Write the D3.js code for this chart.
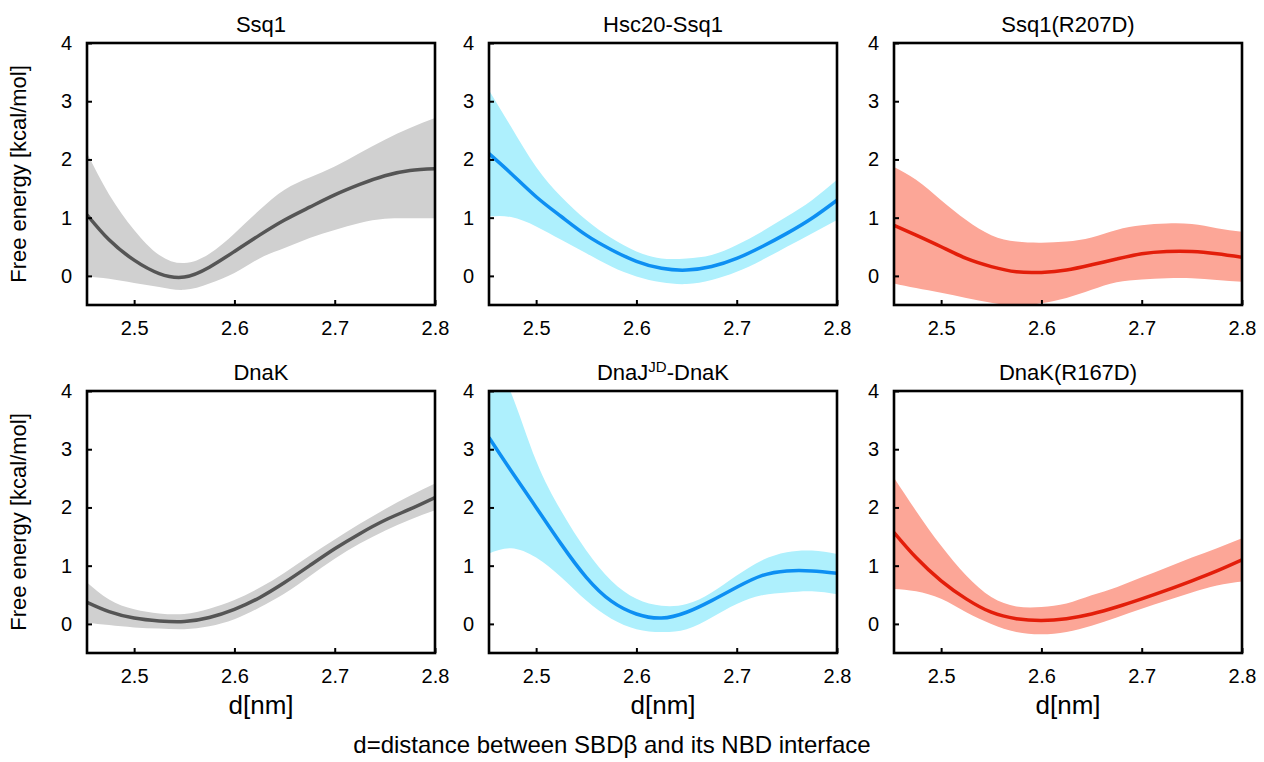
<!DOCTYPE html>
<html>
<head>
<meta charset="utf-8">
<script src="https://cdn.jsdelivr.net/npm/d3@7"></script>
<style>
  body { margin: 0; background: #fff; }
  text { font-family: "Liberation Sans", Arial, sans-serif; fill: #000; }
</style>
</head>
<body>
<svg class="chart" width="1264" height="762"></svg>
<script>
// distance grid (nm)
const xs = [2.453, 2.475, 2.5, 2.525, 2.55, 2.575, 2.6, 2.625, 2.65, 2.675, 2.7, 2.725, 2.75, 2.775, 2.8]

// free energy, kcal/mol: mean, upper and lower edge of the band
const ssq1Mean  = [1.05, 0.62, 0.27, 0.04, -0.02, 0.15, 0.42, 0.70, 0.96, 1.18, 1.39, 1.57, 1.72, 1.81, 1.84]
const ssq1Upper = [2.11, 1.40, 0.79, 0.36, 0.22, 0.38, 0.73, 1.13, 1.48, 1.69, 1.88, 2.11, 2.34, 2.54, 2.71]
const ssq1Lower = [-0.01, -0.05, -0.12, -0.19, -0.24, -0.13, 0.05, 0.30, 0.48, 0.65, 0.79, 0.91, 0.98, 0.99, 0.99]

const hscMean  = [2.10, 1.76, 1.36, 1.02, 0.70, 0.45, 0.25, 0.13, 0.10, 0.16, 0.30, 0.50, 0.73, 0.99, 1.30]
const hscUpper = [3.19, 2.56, 1.87, 1.36, 0.96, 0.65, 0.42, 0.30, 0.30, 0.36, 0.53, 0.76, 1.02, 1.30, 1.65]
const hscLower = [1.02, 1.01, 0.85, 0.62, 0.39, 0.16, -0.01, -0.11, -0.14, -0.07, 0.07, 0.27, 0.50, 0.73, 0.96]

const ssqMutMean  = [0.87, 0.70, 0.50, 0.30, 0.16, 0.07, 0.06, 0.10, 0.19, 0.29, 0.38, 0.42, 0.42, 0.38, 0.32]
const ssqMutUpper = [1.87, 1.65, 1.30, 0.96, 0.70, 0.59, 0.57, 0.59, 0.66, 0.79, 0.87, 0.90, 0.89, 0.82, 0.76]
const ssqMutLower = [-0.13, -0.21, -0.29, -0.38, -0.46, -0.51, -0.47, -0.38, -0.24, -0.11, -0.06, -0.04, -0.04, -0.07, -0.10]

const dnakMean  = [0.37, 0.21, 0.10, 0.05, 0.04, 0.11, 0.25, 0.45, 0.71, 1.00, 1.29, 1.55, 1.78, 1.97, 2.17]
const dnakUpper = [0.71, 0.42, 0.25, 0.18, 0.17, 0.26, 0.41, 0.62, 0.88, 1.17, 1.45, 1.72, 1.97, 2.20, 2.41]
const dnakLower = [0.02, -0.02, -0.06, -0.08, -0.09, -0.04, 0.08, 0.28, 0.52, 0.82, 1.12, 1.38, 1.60, 1.79, 1.95]

const dnajMean  = [3.20, 2.63, 2.00, 1.37, 0.80, 0.39, 0.17, 0.10, 0.20, 0.40, 0.63, 0.83, 0.91, 0.91, 0.87]
const dnajUpper = [4.70, 3.97, 2.80, 1.94, 1.26, 0.74, 0.43, 0.31, 0.34, 0.54, 0.83, 1.09, 1.23, 1.26, 1.20]
const dnajLower = [1.21, 1.30, 1.14, 0.80, 0.40, 0.09, -0.09, -0.14, -0.09, 0.11, 0.34, 0.49, 0.54, 0.56, 0.51]

const dnakMutMean  = [1.57, 1.14, 0.74, 0.43, 0.20, 0.09, 0.06, 0.09, 0.17, 0.29, 0.43, 0.58, 0.74, 0.91, 1.10]
const dnakMutUpper = [2.51, 1.94, 1.34, 0.83, 0.46, 0.30, 0.29, 0.35, 0.49, 0.63, 0.80, 0.97, 1.14, 1.30, 1.47]
const dnakMutLower = [0.60, 0.56, 0.43, 0.20, 0.00, -0.14, -0.18, -0.14, -0.03, 0.11, 0.26, 0.40, 0.54, 0.66, 0.73]

const xTicks = [2.5, 2.6, 2.7, 2.8]
const yTicks = [0, 1, 2, 3, 4]

const panels = [
  { title: "Ssq1", mean: ssq1Mean, upper: ssq1Upper, lower: ssq1Lower, band: "#d0d0d0", line: "#555555" },
  { title: "Hsc20-Ssq1", mean: hscMean, upper: hscUpper, lower: hscLower, band: "#aef0fd", line: "#0d8ff2" },
  { title: "Ssq1(R207D)", mean: ssqMutMean, upper: ssqMutUpper, lower: ssqMutLower, band: "#fca697", line: "#e31e0a" },
  { title: "DnaK", mean: dnakMean, upper: dnakUpper, lower: dnakLower, band: "#d0d0d0", line: "#555555" },
  { title: "DnaJ", sup: "JD", after: "-DnaK", mean: dnajMean, upper: dnajUpper, lower: dnajLower, band: "#aef0fd", line: "#0d8ff2" },
  { title: "DnaK(R167D)", mean: dnakMutMean, upper: dnakMutUpper, lower: dnakMutLower, band: "#fca697", line: "#e31e0a" }
]

const svg = d3.select("svg.chart")
const lefts = [87, 489, 894]
const tops = [43, 391]
const w = 348, h = 262

panels.forEach((p, i) => {
  const col = i % 3, row = Math.floor(i / 3)
  const left = lefts[col], top = tops[row]

  const x = d3.scaleLinear().domain([2.453, 2.8]).range([left, left + w])
  const y = d3.scaleLinear().domain([-0.5, 4]).range([top + h, top])

  const g = svg.append("g")

  g.append("clipPath").attr("id", "clip" + i)
    .append("rect").attr("x", left).attr("y", top).attr("width", w).attr("height", h)

  const plot = g.append("g").attr("clip-path", `url(#clip${i})`)

  // band
  const area = d3.area()
    .x((d, j) => x(xs[j]))
    .y0((d, j) => y(p.lower[j]))
    .y1((d, j) => y(p.upper[j]))
    .curve(d3.curveNatural)
  plot.append("path").datum(p.mean).attr("d", area).attr("fill", p.band)

  // mean
  const line = d3.line()
    .x((d, j) => x(xs[j]))
    .y(d => y(d))
    .curve(d3.curveNatural)
  plot.append("path").datum(p.mean).attr("d", line)
    .attr("fill", "none").attr("stroke", p.line).attr("stroke-width", 3.5)

  // axes: ticks point inward
  g.append("g").attr("transform", `translate(0,${top + h})`)
    .call(d3.axisBottom(x).tickValues(xTicks).tickSizeInner(-5).tickSizeOuter(0).tickPadding(16).tickFormat(d3.format(".1f")))
    .call(a => a.select(".domain").remove())
    .call(a => a.selectAll("line").attr("stroke", "#000").attr("stroke-width", 2))
    .call(a => a.selectAll("text").attr("font-size", 20).attr("font-family", "Liberation Sans, Arial, sans-serif"))

  g.append("g").attr("transform", `translate(${left},0)`)
    .call(d3.axisLeft(y).tickValues(yTicks).tickSizeInner(-5).tickSizeOuter(0).tickPadding(15).tickFormat(d3.format("d")))
    .call(a => a.select(".domain").remove())
    .call(a => a.selectAll("line").attr("stroke", "#000").attr("stroke-width", 2))
    .call(a => a.selectAll("text").attr("font-size", 20).attr("font-family", "Liberation Sans, Arial, sans-serif"))

  // frame
  g.append("rect").attr("x", left).attr("y", top).attr("width", w).attr("height", h)
    .attr("fill", "none").attr("stroke", "#000").attr("stroke-width", 2.6)

  // title
  const t = g.append("text")
    .attr("x", left + w / 2).attr("y", top - 11)
    .attr("text-anchor", "middle").attr("font-size", 22)
    .text(p.title)
  if (p.sup) {
    t.append("tspan").attr("font-size", 15).attr("dy", -8).text(p.sup)
    t.append("tspan").attr("dy", 8).text(p.after)
  }

  if (col === 0) {
    svg.append("text")
      .attr("transform", `translate(26,${top + h / 2}) rotate(-90)`)
      .attr("text-anchor", "middle").attr("font-size", 22)
      .text("Free energy [kcal/mol]")
  }
  if (row === 1) {
    svg.append("text")
      .attr("x", left + w / 2).attr("y", 714)
      .attr("text-anchor", "middle").attr("font-size", 26)
      .text("d[nm]")
  }
})

svg.append("text")
  .attr("x", 612).attr("y", 753)
  .attr("text-anchor", "middle").attr("font-size", 24)
  .text("d=distance between SBDβ and its NBD interface")
</script>
</body>
</html>
